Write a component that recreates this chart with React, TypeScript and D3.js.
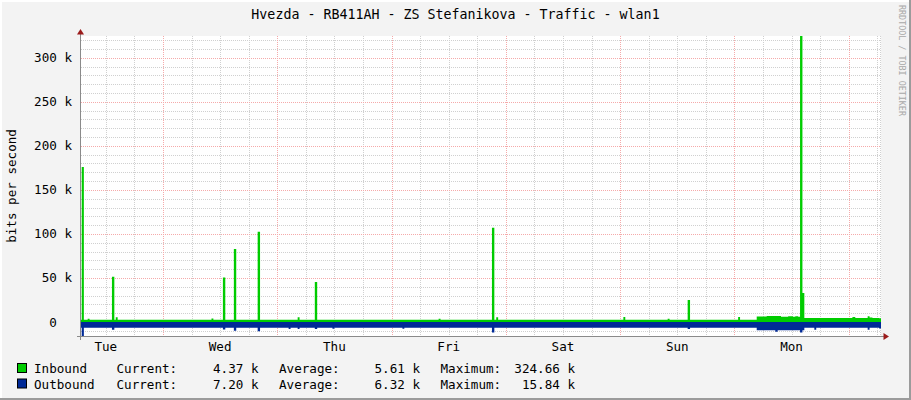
import React from "react";
import * as d3 from "d3";

// ---------- data ----------
const title = "Hvezda - RB411AH - ZS Stefanikova - Traffic - wlan1";
const yAxisTitle = "bits per second";
const sideText = "RRDTOOL / TOBI OETIKER";
const startTime = new Date(2024, 0, 2, 6, 47); // Tue 06:47
const spanHours = 168;

// step series: [hours since start, value in k]
const inboundSteps: [number, number][] = [
  [0, 2.6], [0.15, 176], [0.6, 2.6], [1.4, 3.6], [1.8, 2.6],
  [6.5, 51.5], [7.0, 2.6], [7.3, 5.5], [7.7, 2.6],
  [27.4, 4], [27.8, 2.6], [29.8, 50.5], [30.3, 2.6],
  [32.1, 83], [32.6, 2.6], [37.1, 102.5], [37.6, 2.6],
  [45.5, 5.5], [45.9, 2.6], [49.1, 45.5], [49.6, 2.6],
  [75.1, 3.6], [75.5, 2.6], [86.3, 107], [86.8, 2.6], [87.2, 5.5], [87.6, 2.6],
  [113.9, 5.7], [114.3, 2.6], [123.2, 3.6], [123.6, 2.6],
  [127.4, 25], [127.9, 2.6], [138.0, 5.7], [138.4, 2.6],
  [141.9, 6.2], [144.0, 6.8], [147.0, 6.0], [148.5, 6.6], [149.5, 6.0], [150.0, 6.6], [150.6, 6.0],
  [151.0, 324.66], [151.5, 33], [151.9, 4.5],
  [162.0, 5.7], [162.6, 4.5], [165.2, 6.5], [165.6, 5.2], [166.2, 4.5], [167.6, 4.37], [168, 4.37],
];
const outboundSteps: [number, number][] = [
  [0, 6.5], [0.15, 15.84], [0.6, 6.5], [6.5, 8.7], [7.0, 6.5],
  [29.8, 8.5], [30.3, 6.5], [32.1, 9.8], [32.6, 6.5], [37.1, 10.5], [37.6, 6.5],
  [43.6, 8], [44.0, 6.5], [45.5, 8], [45.9, 6.5], [49.1, 8], [49.6, 6.5],
  [52.8, 7.5], [53.2, 6.5], [67.5, 7.6], [67.9, 6.5], [86.3, 12], [86.8, 6.5],
  [127.4, 8], [127.9, 6.5],
  [141.9, 9.4], [145.8, 11], [146.3, 9.4], [151.0, 12], [151.5, 9.4], [151.9, 6.5],
  [154.0, 8.7], [154.4, 6.5], [165.2, 8.7], [165.6, 6.5], [167.6, 7.2], [168, 7.2],
];

const yTicks = [0, 50, 100, 150, 200, 250, 300];
const yMin = -15.84;
const yMax = 324.66;

const legendNames = ["Inbound", "Outbound"];
const currentVals = [4.37, 7.2];
const averageVals = [5.61, 6.32];
const maximumVals = [324.66, 15.84];

// ---------- styles ----------
const W = 911;
const H = 400;
const FONT = "'DejaVu Sans Mono', 'Liberation Mono', monospace";
const GREEN = "#00CC00";
const BLUE = "#002A97";
const MINOR = "#D0D0D0";
const MAJOR = "#F5AAAA";
const plot = { left: 81, right: 881, top: 36, bottom: 336 };

export default function App() {
  const x = d3
    .scaleTime()
    .domain([startTime, new Date(+startTime + spanHours * 3600e3)])
    .range([plot.left, plot.right]);
  const y = d3.scaleLinear().domain([yMin, yMax]).range([plot.bottom, plot.top]);
  const toDate = (h: number) => new Date(+startTime + h * 3600e3);

  const inArea = d3
    .area<[number, number]>()
    .x((d) => x(toDate(d[0])))
    .y0(y(0))
    .y1((d) => y(d[1]))
    .curve(d3.curveStepAfter);
  const outArea = d3
    .area<[number, number]>()
    .x((d) => x(toDate(d[0])))
    .y0(y(0))
    .y1((d) => y(-d[1]))
    .curve(d3.curveStepAfter);

  const [d0, d1] = x.domain();
  const minorX = d3.timeHour.every(6)!.range(d0, d1).filter((d) => d.getHours() !== 0);
  const majorX = d3.timeDay.range(d0, d1);
  const labelDays = d3.timeDay
    .range(d3.timeDay.floor(d0), d1)
    .map((d) => new Date(+d + 12 * 3600e3))
    .filter((d) => d >= d0 && d <= d1);
  const fmtDay = d3.timeFormat("%a");

  const minorY = d3.range(-10, yMax, 10).filter((v) => v % 50 !== 0);
  const majorY = d3.range(0, yMax, 50);

  const fmtK = (v: number) => v.toFixed(2) + " k";
  const fs = 12.6;

  return (
    <svg
      width={W}
      height={H}
      style={{ position: "absolute", left: 0, top: 0, display: "block" }}
      fontFamily={FONT}
    >
      <rect x={0} y={0} width={W} height={H} fill="#F3F3F3" />
      {/* 3D frame */}
      <line x1={0} y1={1} x2={W} y2={1} stroke="#FFFFFF" strokeWidth={2} />
      <line x1={1} y1={0} x2={1} y2={H} stroke="#FFFFFF" strokeWidth={2} />
      <line x1={0} y1={H - 1} x2={W} y2={H - 1} stroke="#9B9B9B" strokeWidth={2} />
      <line x1={W - 1} y1={0} x2={W - 1} y2={H} stroke="#9B9B9B" strokeWidth={2} />

      <text x={W / 2} y={18.5} textAnchor="middle" fontSize={13.3} fill="#000">
        {title}
      </text>
      <text
        transform={`translate(899,5) rotate(90)`}
        fontSize={8.4}
        fill="#A8A8A8"
        textAnchor="start"
      >
        {sideText}
      </text>

      {/* plot bg */}
      <rect
        x={plot.left}
        y={plot.top}
        width={plot.right - plot.left}
        height={plot.bottom - plot.top}
        fill="#FFFFFF"
      />

      {/* grid */}
      <g shapeRendering="crispEdges" strokeWidth={1} strokeDasharray="1,1">
        {minorY.map((v) => (
          <line key={"my" + v} x1={plot.left} x2={plot.right} y1={Math.round(y(v)) + 0.5} y2={Math.round(y(v)) + 0.5} stroke={MINOR} />
        ))}
        {minorX.map((d) => (
          <line key={"mx" + +d} x1={Math.round(x(d)) + 0.5} x2={Math.round(x(d)) + 0.5} y1={plot.top} y2={plot.bottom} stroke={MINOR} />
        ))}
        <line x1={plot.right - 0.5} x2={plot.right - 0.5} y1={plot.top} y2={plot.bottom} stroke={MINOR} />
        {majorY.map((v) => (
          <line key={"My" + v} x1={plot.left} x2={plot.right} y1={Math.round(y(v)) + 0.5} y2={Math.round(y(v)) + 0.5} stroke={MAJOR} />
        ))}
        {majorX.map((d) => (
          <line key={"Mx" + +d} x1={Math.round(x(d)) + 0.5} x2={Math.round(x(d)) + 0.5} y1={plot.top} y2={plot.bottom} stroke={MAJOR} />
        ))}
      </g>

      {/* data */}
      <path d={inArea(inboundSteps) || ""} fill={GREEN} />
      <path d={outArea(outboundSteps) || ""} fill={BLUE} />

      {/* axes */}
      <g shapeRendering="crispEdges">
        <line x1={plot.left - 0.5} x2={plot.left - 0.5} y1={plot.bottom + 4} y2={31} stroke="#8A8A8A" />
        <line x1={plot.left - 4} x2={885} y1={plot.bottom + 0.5} y2={plot.bottom + 0.5} stroke="#8A8A8A" />
      </g>
      <path d={`M${plot.left - 0.5},29 L${plot.left - 4},34.5 L${plot.left + 3},34.5 Z`} fill="#9B1B1B" />
      <path d={`M889,${plot.bottom + 0.5} L883.5,${plot.bottom - 3} L883.5,${plot.bottom + 4} Z`} fill="#9B1B1B" />

      {/* y tick labels */}
      {yTicks.map((v) => (
        <text
          key={"yl" + v}
          x={72}
          y={y(v) + 4.5}
          textAnchor="end"
          fontSize={fs}
          fill="#000"
          style={{ whiteSpace: "pre" }}
        >
          {v === 0 ? "0  " : `${v} k`}
        </text>
      ))}
      <text
        transform={`translate(16,186) rotate(-90)`}
        textAnchor="middle"
        fontSize={fs}
        fill="#000"
      >
        {yAxisTitle}
      </text>

      {/* x labels */}
      {labelDays.map((d) => (
        <text key={"xl" + +d} x={x(d)} y={351} textAnchor="middle" fontSize={fs} fill="#000">
          {fmtDay(d)}
        </text>
      ))}

      {/* legend */}
      {legendNames.map((name, i) => {
        const by = 373 + i * 15.5;
        return (
          <g key={name} fontSize={fs} fill="#000">
            <rect x={17.5} y={by - 9.5} width={9} height={9} fill={i === 0 ? GREEN : BLUE} stroke="#000" strokeWidth={1} />
            <text x={34} y={by}>{name}</text>
            <text x={116.5} y={by}>Current:</text>
            <text x={258.5} y={by} textAnchor="end">{fmtK(currentVals[i])}</text>
            <text x={279} y={by}>Average:</text>
            <text x={420} y={by} textAnchor="end">{fmtK(averageVals[i])}</text>
            <text x={440.5} y={by}>Maximum:</text>
            <text x={575} y={by} textAnchor="end">{fmtK(maximumVals[i])}</text>
          </g>
        );
      })}
    </svg>
  );
}
